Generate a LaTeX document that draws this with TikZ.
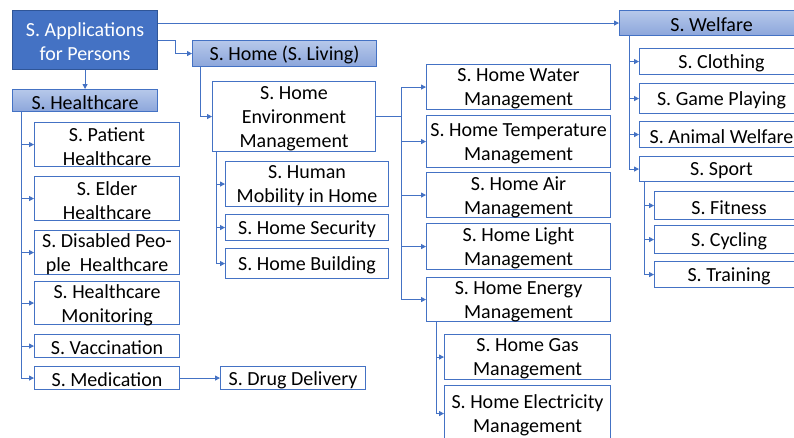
\documentclass[tikz,border=0pt]{standalone}
\usepackage{fontspec}
\setmainfont{Carlito}
\usetikzlibrary{arrows.meta,calc}
\definecolor{bl}{RGB}{68,114,196}
\definecolor{dbl}{RGB}{47,85,151}
\definecolor{htop}{RGB}{182,200,234}
\definecolor{hbot}{RGB}{140,166,219}
\tikzset{
  box/.style={draw=bl, line width=1.1pt, fill=white, inner sep=0pt, anchor=north west},
  head/.style={box, fill=none, top color=htop, bottom color=hbot, draw=bl},
  root/.style={box, fill=bl, draw=dbl},
  lbl/.style={inner sep=0pt, align=center, font=\fontsize{20}{24}\selectfont},
  conn/.style={draw=bl, line width=0.8pt, -{Triangle[length=5pt,width=5pt]}},
  plain/.style={draw=bl, line width=0.8pt}
}
\newcommand{\bx}[8][black]{\node[#7, minimum width={(#5-#3)*1pt}, minimum height={(#6-#4)*1pt}] (#2) at (#3,#4) {};
  \node[lbl, text=#1] (#2-t) at ([yshift=-1.8pt]#2.center) {#8};}
\begin{document}
\begin{tikzpicture}[x=1pt,y=-1pt]
\clip (0,0) rectangle (794,437);
\fill[white] (0,0) rectangle (794,437);
\bx[white]{app}{12}{10}{157}{69}{root}{S. Applications\\for Persons}
\bx{home}{192}{40}{376}{66}{head}{S. Home (S. Living)}
\bx{health}{12}{89}{157}{111}{head}{S. Healthcare}
\bx{welfare}{619}{10}{803}{35}{head}{S. Welfare}
\bx{patient}{34}{122}{179}{166}{box}{S. Patient\\Healthcare}
\bx{elder}{34}{176}{179}{220}{box}{S. Elder\\Healthcare}
\bx{disabled}{34}{230}{179}{274}{box}{S. Disabled Peo-\\ple\ \ Healthcare}
\bx{monitor}{34}{281}{179}{324}{box}{S. Healthcare\\Monitoring}
\bx{vacc}{34}{334}{179}{357}{box}{S. Vaccination}
\bx{med}{34}{366}{179}{389}{box}{S. Medication}
\bx{drug}{220}{366}{365}{389}{box}{S. Drug Delivery}
\bx{env}{212}{81}{375}{151}{box}{S. Home\\Environment\\Management}
\bx{human}{225}{161}{388}{206}{box}{S. Human\\Mobility in Home}
\bx{security}{225}{214}{388}{240}{box}{S. Home Security}
\bx{building}{225}{248}{388}{278}{box}{S. Home Building}
\bx{water}{426}{64}{610}{109}{box}{S. Home Water\\Management}
\bx{temp}{426}{115}{610}{167}{box}{S. Home Temperature\\Management}
\bx{air}{426}{172}{610}{217}{box}{S. Home Air\\Management}
\bx{light}{426}{223}{610}{269}{box}{S. Home Light\\Management}
\bx{energy}{426}{277}{610}{321}{box}{S. Home Energy\\Management}
\bx{gas}{444}{334}{610}{379}{box}{S. Home Gas\\Management}
\bx{elec}{444}{385}{610}{441}{box}{S. Home Electricity\\Management}
\bx{clothing}{639}{48}{803}{74}{box}{S. Clothing}
\bx{game}{639}{83}{803}{113}{box}{S. Game Playing}
\bx{animal}{639}{121}{803}{147}{box}{S. Animal Welfare}
\bx{sport}{639}{156}{803}{181}{box}{S. Sport}
\bx{fitness}{654}{191}{803}{219}{box}{S. Fitness}
\bx{cycling}{654}{225}{803}{253}{box}{S. Cycling}
\bx{training}{654}{261}{803}{287}{box}{S. Training}
% connectors
\draw[conn] (app.south) -- (health.north);
\draw[conn] (app.east) -- ++(17,0) |- (home.west);
\draw[conn] (app.east |- welfare.west) -- (welfare.west);
\draw[conn] ([xshift=8pt]home.south west) |- (env.west);
\foreach \c in {patient,elder,disabled,monitor,vacc,med}
  \draw[conn] ([xshift=9pt]health.south west) |- (\c.west);
\draw[conn] (med.east) -- (drug.west);
\foreach \c in {human,security,building}
  \draw[conn] ([xshift=4pt]env.south west) |- (\c.west);
\draw[plain] (env.east) -- ++(25,0) coordinate (hmj);
\foreach \c in {water,temp,air,light,energy}
  \draw[conn] (hmj) |- (\c.west);
\foreach \c in {gas,elec}
  \draw[conn] ([xshift=10pt]energy.south west) |- (\c.west);
\foreach \c in {clothing,game,animal,sport}
  \draw[conn] ([xshift=10pt]welfare.south west) |- (\c.west);
\foreach \c in {fitness,cycling,training}
  \draw[conn] ([xshift=5pt]sport.south west) |- (\c.west);
\end{tikzpicture}
\end{document}
